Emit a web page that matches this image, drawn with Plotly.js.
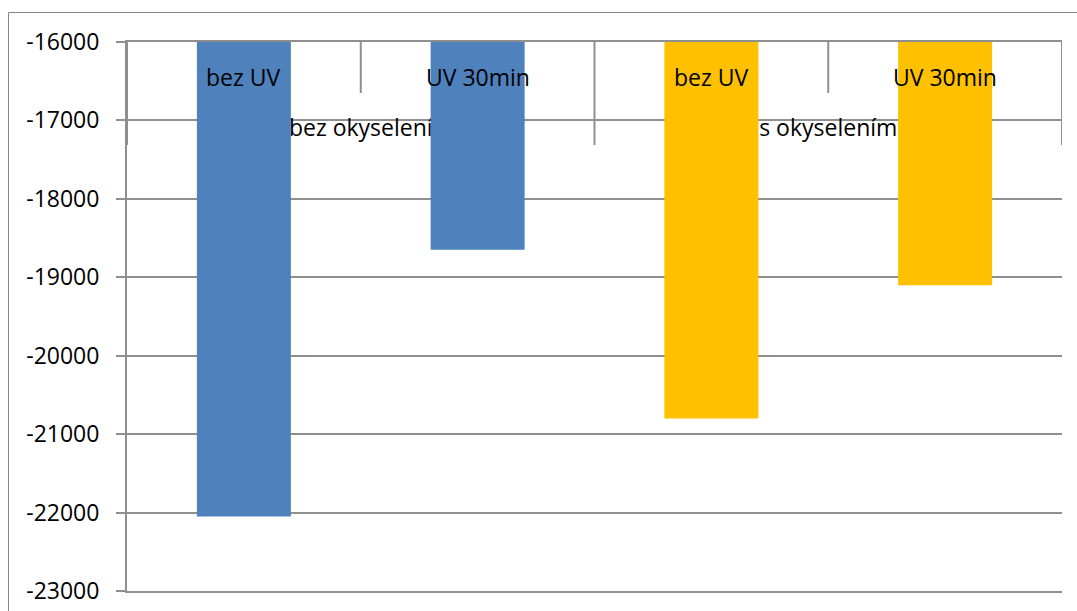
<!DOCTYPE html>
<html>
<head>
<meta charset="utf-8">
<script src="https://cdn.plot.ly/plotly-3.0.1.min.js"></script>
<style>
  html, body { margin: 0; padding: 0; background: #ffffff; }
  #chart { width: 1077px; height: 611px; }
</style>
</head>
<body>
<div id="chart"></div>
<script>
// Treatment groups and the sub-conditions within each group
const groups = ["bez okyselení", "s okyselením"];
const conditions = ["bez UV", "UV 30min"];

// Measured values, one per condition, listed by group
const valuesBezOkyseleni = [-22050, -18650];
const valuesSOkyselenim = [-20800, -19100];

const groupColors = ["#4F81BD", "#FFC000"];

// Value-axis ticks and their labels
const yTickValues = [-16000, -17000, -18000, -19000, -20000, -21000, -22000, -23000];
const yTickLabels = ["-16000", "-17000", "-18000", "-19000", "-20000", "-21000", "-22000", "-23000"];
const yMin = -23000;
const yMax = -16000;

const FONT = "Open Sans, Liberation Sans, sans-serif";
const GRID = "#8f8f8f";
const TEXT_SIZE = 23;

// Category positions: one slot per condition, groups laid out side by side
const nCond = conditions.length;
const seriesValues = [valuesBezOkyseleni, valuesSOkyselenim];

const traces = [];

// Group captions sit beneath the bars (base subplot, drawn first)
const GROUP_LABEL_Y = -17120;
traces.push({
  type: "scatter",
  mode: "text",
  x: groups.map((g, gi) => gi * nCond + (nCond - 1) / 2),
  y: groups.map(() => GROUP_LABEL_Y),
  text: groups,
  textposition: "middle center",
  textfont: { family: FONT, size: TEXT_SIZE, color: "#000000" },
  hoverinfo: "skip",
  showlegend: false,
  cliponaxis: false,
  xaxis: "x",
  yaxis: "y"
});

// Bars on the overlaid subplot so they paint over the group captions
groups.forEach((g, gi) => {
  traces.push({
    type: "bar",
    x: conditions.map((c, ci) => gi * nCond + ci),
    y: seriesValues[gi],
    name: g,
    marker: { color: groupColors[gi], line: { width: 0 } },
    hoverinfo: "x+y",
    showlegend: false,
    xaxis: "x2",
    yaxis: "y2"
  });
});

const nSlots = groups.length * nCond;
const xRange = [-0.5, nSlots - 0.5];

const annotations = [];
groups.forEach((g, gi) => {
  conditions.forEach((c, ci) => {
    annotations.push({
      xref: "x", yref: "paper",
      x: gi * nCond + ci, y: 1 - 35 / 549,
      text: c, showarrow: false,
      xanchor: "center", yanchor: "middle",
      font: { family: FONT, size: TEXT_SIZE, color: "#000000" }
    });
  });
});

const shapes = [];
// Long dividers between groups, short dividers between conditions
for (let s = 0; s <= nSlots; s++) {
  const isGroupEdge = s % nCond === 0;
  shapes.push({
    type: "line", xref: "x", yref: "paper",
    x0: s - 0.5, x1: s - 0.5,
    y0: 1 - (isGroupEdge ? 103 : 51) / 549, y1: 1,
    line: { color: GRID, width: 2 },
    layer: "above"
  });
}
// Chart frame
shapes.push({
  type: "rect", xref: "paper", yref: "paper",
  x0: (8.5 - 127) / 935, x1: (1090 - 127) / 935,
  y0: -40 / 549, y1: 1 + 29.5 / 549,
  line: { color: "#868686", width: 1 },
  fillcolor: "rgba(0,0,0,0)",
  layer: "below"
});

const layout = {
  width: 1077,
  height: 611,
  margin: { l: 127, r: 15, t: 42, b: 20, pad: 0 },
  paper_bgcolor: "#ffffff",
  plot_bgcolor: "#ffffff",
  showlegend: false,
  bargap: 0.598,
  xaxis: {
    range: xRange,
    showticklabels: false,
    ticks: "",
    showgrid: false,
    zeroline: false,
    showline: true,
    mirror: true,
    linecolor: GRID,
    linewidth: 2,
    fixedrange: true
  },
  xaxis2: {
    overlaying: "x",
    matches: "x",
    range: xRange,
    visible: false,
    fixedrange: true
  },
  yaxis: {
    range: [yMin, yMax],
    tickmode: "array",
    tickvals: yTickValues,
    ticktext: yTickLabels,
    ticks: "outside",
    ticklen: 9,
    tickwidth: 2,
    tickcolor: GRID,
    ticklabelstandoff: 12,
    tickfont: { family: FONT, size: TEXT_SIZE, color: "#000000" },
    showgrid: true,
    gridcolor: GRID,
    gridwidth: 2,
    zeroline: false,
    showline: true,
    linecolor: GRID,
    linewidth: 2,
    fixedrange: true
  },
  yaxis2: {
    overlaying: "y",
    matches: "y",
    range: [yMin, yMax],
    visible: false,
    fixedrange: true
  },
  annotations: annotations,
  shapes: shapes
};

Plotly.newPlot("chart", traces, layout, { displayModeBar: false, staticPlot: true });
</script>
</body>
</html>
